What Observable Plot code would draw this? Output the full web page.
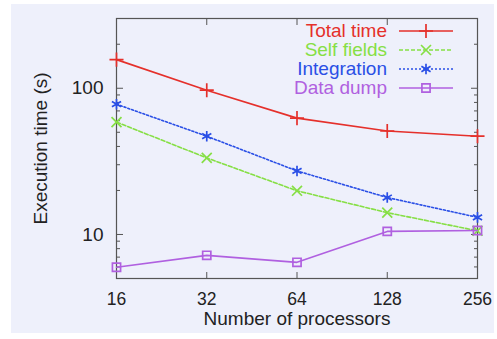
<!DOCTYPE html>
<html>
<head>
<meta charset="utf-8">
<script src="https://cdn.jsdelivr.net/npm/d3@7"></script>
<script src="https://cdn.jsdelivr.net/npm/@observablehq/plot@0.6"></script>
<style>
  html, body { margin: 0; padding: 0; background: #fff; }
  #wrap { position: relative; width: 497px; height: 339px; overflow: hidden; font-family: "Liberation Sans", Arial, sans-serif; }
  #panel { position: absolute; left: 11px; top: 4px; width: 483px; height: 329px; background: #eef0fb; }
  #chart { position: absolute; left: 0; top: 0; }
  #legend { position: absolute; left: 0; top: 0; }
  .lrow { position: absolute; left: 200px; width: 256px; height: 20px; display: flex; align-items: center; }
  .lrow span { display: inline-block; width: 187px; text-align: right; font-size: 19px; line-height: 20px; }
  .lrow svg { margin-left: 12px; }
</style>
</head>
<body>
<div id="wrap">
  <div id="panel"></div>
  <div id="chart"></div>
  <div id="legend"></div>
</div>
<script>
// ---- data ----
const procs = [16, 32, 64, 128, 256];
const seriesNames = ["Total time", "Self fields", "Integration", "Data dump"];
const totalTime = [157, 97, 62.5, 51, 47];
const selfFields = [58.7, 33.4, 19.9, 14.1, 10.6];
const integration = [77.8, 47, 27.2, 17.9, 13.1];
const dataDump = [5.97, 7.2, 6.45, 10.5, 10.65];
const yMajorTicks = [10, 100];
const yMinorTicks = [5, 6, 7, 8, 9, 20, 30, 40, 50, 60, 70, 80, 90, 200, 300];
const xLabel = "Number of processors";
const yLabel = "Execution time (s)";

// ---- styles ----
const styles = {
  "Total time":  {color: "#e5302b", dash: null,  symbol: "plus",     d3sym: d3.symbolPlus,     r: 4.6},
  "Self fields": {color: "#86df45", dash: "4,2", symbol: "times",    d3sym: d3.symbolTimes,    r: 4.6},
  "Integration": {color: "#2a4fe6", dash: "2,2", symbol: "asterisk", d3sym: d3.symbolAsterisk, r: 5},
  "Data dump":   {color: "#b060e0", dash: null,  symbol: "square2",  d3sym: d3.symbolSquare2,  r: 5.2}
};
const valuesBySeries = [totalTime, selfFields, integration, dataDump];
const table = seriesNames.flatMap((s, i) => procs.map((p, j) => ({series: s, procs: p, time: valuesBySeries[i][j]})));

const axisColor = "#555";
const lineMarks = seriesNames.flatMap(s => {
  const st = styles[s];
  const d = table.filter(r => r.series === s);
  return [
    Plot.line(d, {x: "procs", y: "time", stroke: st.color, strokeWidth: 1.6, strokeDasharray: st.dash}),
    Plot.dot(d, {x: "procs", y: "time", stroke: st.color, strokeWidth: 1.7, symbol: () => st.symbol, r: st.r, fill: "none"})
  ];
});

const chart = Plot.plot({
  width: 497,
  height: 339,
  marginLeft: 116,
  marginRight: 20,
  marginTop: 18,
  marginBottom: 61,
  style: {background: "transparent", fontFamily: "\"Liberation Sans\", Arial, sans-serif", fontSize: "17px", color: "#222"},
  x: {type: "log", base: 2, domain: [16, 256]},
  y: {type: "log", domain: [5, 300]},
  marks: [
    // inward ticks (gnuplot style) on all four sides
    Plot.axisX(procs, {anchor: "bottom", tickSize: -6, tickFormat: () => "", stroke: axisColor, label: null}),
    Plot.axisX(procs, {anchor: "top", tickSize: -6, tickFormat: () => "", stroke: axisColor, label: null}),
    Plot.axisY(yMajorTicks, {anchor: "left", tickSize: -7, tickFormat: () => "", stroke: axisColor, label: null}),
    Plot.axisY(yMajorTicks, {anchor: "right", tickSize: -7, tickFormat: () => "", stroke: axisColor, label: null}),
    Plot.axisY(yMinorTicks, {anchor: "left", tickSize: -4, tickFormat: () => "", stroke: axisColor, label: null}),
    Plot.axisY(yMinorTicks, {anchor: "right", tickSize: -4, tickFormat: () => "", stroke: axisColor, label: null}),
    // tick labels
    Plot.axisX(procs, {anchor: "bottom", tickSize: 0, tickPadding: 14, tickFormat: d => String(d), fontSize: 17.5, fill: "#222", label: null}),
    Plot.axisY(yMajorTicks, {anchor: "left", tickSize: 0, tickPadding: 13, tickFormat: d => String(d), fontSize: 19, fill: "#222", label: null}),
    Plot.frame({stroke: axisColor, strokeWidth: 1.2}),
    ...lineMarks,
    // axis titles
    Plot.text([xLabel], {frameAnchor: "bottom", dy: 46, text: d => d, fontSize: 19, fill: "#222"}),
    Plot.text([yLabel], {frameAnchor: "left", dx: -76, rotate: -90, textAnchor: "middle", text: d => d, fontSize: 19, fill: "#222"})
  ]
});
document.getElementById("chart").appendChild(chart);

// ---- legend ----
const legend = document.getElementById("legend");
const rowCenters = [31, 50, 69, 88];
seriesNames.forEach((s, i) => {
  const st = styles[s];
  const row = document.createElement("div");
  row.className = "lrow";
  row.style.top = (rowCenters[i] - 10) + "px";
  const span = document.createElement("span");
  span.textContent = s;
  span.style.color = st.color;
  row.appendChild(span);
  const svg = d3.create("svg").attr("width", 56).attr("height", 20);
  svg.append("line").attr("x1", 0).attr("x2", 54).attr("y1", 10).attr("y2", 10)
    .attr("stroke", st.color).attr("stroke-width", 1.6).attr("stroke-dasharray", st.dash);
  svg.append("path").attr("transform", "translate(27,10)")
    .attr("d", d3.symbol(st.d3sym, Math.PI * st.r * st.r)())
    .attr("fill", "none").attr("stroke", st.color).attr("stroke-width", 1.7);
  row.appendChild(svg.node());
  legend.appendChild(row);
});
</script>
</body>
</html>
